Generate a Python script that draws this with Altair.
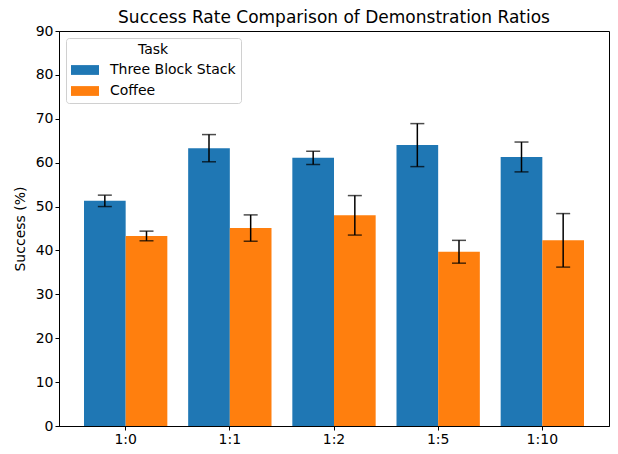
import altair as alt
import pandas as pd

ratios = ["1:0", "1:1", "1:2", "1:5", "1:10"]
tasks = ["Three Block Stack", "Coffee"]
stack_mean = [51.3, 63.3, 61.1, 64.0, 61.3]
stack_err = [1.3, 3.1, 1.5, 4.9, 3.4]
coffee_mean = [43.3, 45.1, 48.0, 39.7, 42.3]
coffee_err = [1.1, 3.0, 4.5, 2.6, 6.1]
colors = ["#1f77b4", "#ff7f0e"]
y_ticks = [0, 10, 20, 30, 40, 50, 60, 70, 80, 90]

rows = []
for task, means, errs in [(tasks[0], stack_mean, stack_err), (tasks[1], coffee_mean, coffee_err)]:
    for r, m, e in zip(ratios, means, errs):
        rows.append({"ratio": r, "task": task, "mean": m, "lo": m - e, "hi": m + e})
df = pd.DataFrame(rows)

x = alt.X("ratio:N", sort=ratios,
          scale=alt.Scale(paddingInner=0.2, paddingOuter=0.24),
          axis=alt.Axis(title=None, labelAngle=0))
xo = alt.XOffset("task:N", sort=tasks, scale=alt.Scale(paddingInner=0, paddingOuter=0))

base = alt.Chart(df)

bars = base.mark_bar().encode(
    x=x, xOffset=xo,
    y=alt.Y("mean:Q", scale=alt.Scale(domain=[0, 90], nice=False),
            axis=alt.Axis(title="Success (%)", values=y_ticks, grid=False, titlePadding=8)),
    color=alt.Color("task:N", sort=tasks,
                    scale=alt.Scale(domain=tasks, range=colors),
                    legend=alt.Legend(title="Task", orient="none", legendX=7, legendY=7,
                                      titleAnchor="middle", strokeColor="#d0d0d0",
                                      fillColor="white", padding=5, cornerRadius=3,
                                      symbolType="M-2,-0.7L2,-0.7L2,0.7L-2,0.7Z",
                                      symbolSize=196, symbolStrokeWidth=0,
                                      symbolOffset=7, labelOffset=18,
                                      labelFontSize=14, titleFontSize=14,
                                      titleFontWeight="normal", rowPadding=7,
                                      titlePadding=6,
                                      labelColor="black", titleColor="black")),
)

rule = base.mark_rule(color="black", strokeWidth=1.5).encode(
    x=x, xOffset=xo, y="lo:Q", y2="hi:Q")
cap_lo = base.mark_tick(color="black", thickness=1.5, size=14).encode(
    x=x, xOffset=xo, y="lo:Q")
cap_hi = base.mark_tick(color="black", thickness=1.5, size=14).encode(
    x=x, xOffset=xo, y="hi:Q")

chart = alt.layer(bars, rule, cap_lo, cap_hi).properties(
    width=550, height=395,
    autosize=alt.AutoSizeParams(type="none"),
    padding={"left": 51, "top": 23, "right": 1, "bottom": 20},
    title=alt.Title("Success Rate Comparison of Demonstration Ratios",
                    fontSize=17, fontWeight="normal", anchor="middle",
                    offset=-3, color="black"),
).configure(font="DejaVu Sans").configure_view(
    stroke="black", strokeWidth=1
).configure_axis(
    domainColor="black", tickColor="black", labelColor="black",
    titleColor="black", labelFontSize=14, titleFontSize=14,
    titleFontWeight="normal", tickSize=4, labelPadding=2, domainWidth=1,
    tickWidth=1,
)

chart.save("out.html", embed_options={"renderer": "svg", "actions": False})
